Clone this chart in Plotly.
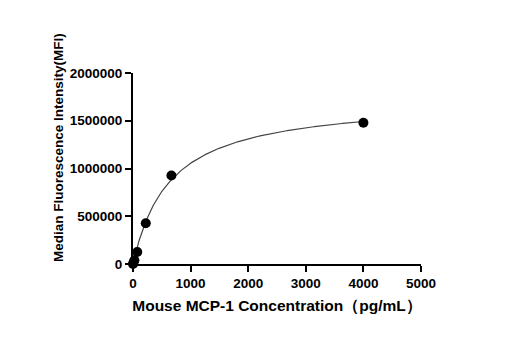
import numpy as np
import plotly.graph_objects as go

conc = [0, 8.2, 24.7, 74, 222, 667, 4000]
mfi = [0, 12000, 40000, 125000, 427000, 927000, 1479000]
x_ticks = [0, 1000, 2000, 3000, 4000, 5000]
y_ticks = [0, 500000, 1000000, 1500000, 2000000]

xd = np.array(conc, float)
yd = np.array(mfi, float)

# one-site saturation fit y = Bmax * x / (Kd + x), least squares on the data
best = None
for K in np.linspace(100, 3000, 2901):
    g = xd / (K + xd)
    B = (g @ yd) / (g @ g)
    err = np.sum((B * g - yd) ** 2)
    if best is None or err < best[0]:
        best = (err, K, B)
_, K, B = best
xf = np.linspace(0, max(conc), 400)
yf = B * xf / (K + xf)

fig = go.Figure()
fig.add_trace(go.Scatter(x=xf, y=yf, mode="lines",
                         line=dict(color="#444444", width=1.2),
                         hoverinfo="skip", cliponaxis=False))
fig.add_trace(go.Scatter(x=conc, y=mfi, mode="markers",
                         marker=dict(color="black", size=10),
                         cliponaxis=False))

font_ticks = dict(family="Liberation Sans, Arial", size=13.5, color="#000000")
fig.update_layout(
    width=531, height=350,
    margin=dict(l=133, r=110, t=73, b=86),
    paper_bgcolor="white", plot_bgcolor="white",
    showlegend=False,
    font=dict(family="Liberation Sans, Arial", color="#000000"),
)
fig.add_annotation(
    text="<b>Median Fluorescence Intensity(MFI)</b>",
    xref="paper", yref="paper", x=-0.257, y=0.6126,
    xanchor="center", yanchor="middle", textangle=-90, showarrow=False,
    font=dict(family="Liberation Sans, Arial", size=13.5, color="#000000"),
)
fig.update_xaxes(
    range=[0, 5000], tickvals=x_ticks, ticktext=[f"<b>{v}</b>" for v in x_ticks],
    showgrid=False, zeroline=False, showline=True, linecolor="#000000", linewidth=2,
    ticks="outside", ticklen=6, tickwidth=2, tickcolor="#000000",
    tickfont=font_ticks,
    title=dict(text="<b>Mouse MCP-1 Concentration（pg/mL）</b>",
               font=dict(family="Liberation Sans, Arial", size=15.5, color="#000000"),
               standoff=10),
)
fig.update_yaxes(
    range=[0, 2000000], tickvals=y_ticks, ticktext=[f"<b>{v}</b>" for v in y_ticks],
    showgrid=False, zeroline=False, showline=True, linecolor="#000000", linewidth=2,
    ticks="outside", ticklen=6, tickwidth=2, tickcolor="#000000",
    tickfont=font_ticks,
)
fig.write_html("out.html")
